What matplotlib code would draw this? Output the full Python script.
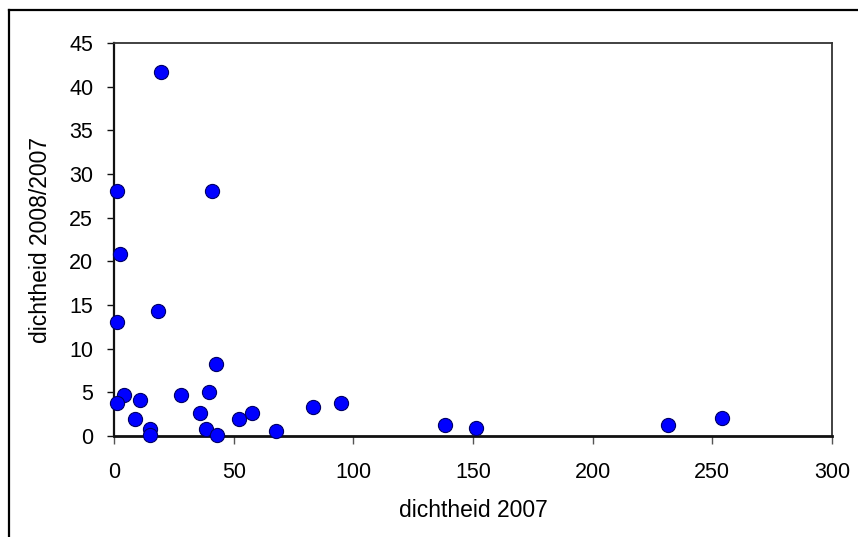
import matplotlib.pyplot as plt
from matplotlib.lines import Line2D

# density 2007 vs. ratio of density 2008/2007
dichtheid_2007 = [19.5, 1.4, 41.1, 2.4, 1.4, 18.4, 42.5, 4.1, 1.4, 10.9, 8.8,
                  15.2, 15.2, 28.0, 39.7, 36.1, 38.6, 43.0, 52.1, 57.8, 67.7,
                  83.2, 94.8, 138.2, 151.1, 231.5, 253.9]
ratio_2008_2007 = [41.7, 28.1, 28.1, 20.8, 13.1, 14.3, 8.26, 4.67, 3.79, 4.17,
                   1.95, 0.8, 0.08, 4.67, 5.01, 2.64, 0.8, 0.11, 1.95, 2.64,
                   0.62, 3.33, 3.78, 1.3, 0.92, 1.26, 2.1]

x_ticks = [0, 50, 100, 150, 200, 250, 300]
y_ticks = [0, 5, 10, 15, 20, 25, 30, 35, 40, 45]

plt.rcParams['font.family'] = ['Liberation Sans', 'DejaVu Sans']

fig = plt.figure(figsize=(8.58, 5.37), dpi=100)
ax = fig.add_axes([0.1329, 0.1881, 0.8368, 0.7318])

ax.plot(dichtheid_2007, ratio_2008_2007, linestyle='none', marker='o',
        markersize=10.2, markerfacecolor='#0000FF', markeredgecolor='#000066',
        markeredgewidth=0.8, clip_on=False, zorder=5)

ax.set_xlim(0, 300)
ax.set_ylim(0, 45)
ax.set_xticks(x_ticks)
ax.set_yticks(y_ticks)

ax.spines['bottom'].set_linewidth(2.0)
ax.spines['bottom'].set_color('#111111')
ax.spines['left'].set_linewidth(1.6)
ax.spines['left'].set_color('#111111')
for side in ('top', 'right'):
    ax.spines[side].set_linewidth(1.3)
    ax.spines[side].set_color('#333333')

ax.tick_params(axis='y', direction='out', length=5, width=1.0,
               color='#111111', labelsize=15.5, pad=10)
ax.tick_params(axis='x', direction='out', length=6, width=1.0,
               color='#555555', labelsize=15.5, pad=13)

ax.set_xlabel('dichtheid 2007', fontsize=16.5, labelpad=11)
ax.set_ylabel('dichtheid 2008/2007', fontsize=16.5, labelpad=12)

# chart frame: top and left edges only inside the image
W, H = 858, 537
fig.add_artist(Line2D([9 / W, 1.0], [1 - 10 / H, 1 - 10 / H],
                      transform=fig.transFigure, color='black', linewidth=1.6))
fig.add_artist(Line2D([9 / W, 9 / W], [0.0, 1 - 10 / H],
                      transform=fig.transFigure, color='black', linewidth=1.6))

fig.savefig('out.png', dpi=100)
